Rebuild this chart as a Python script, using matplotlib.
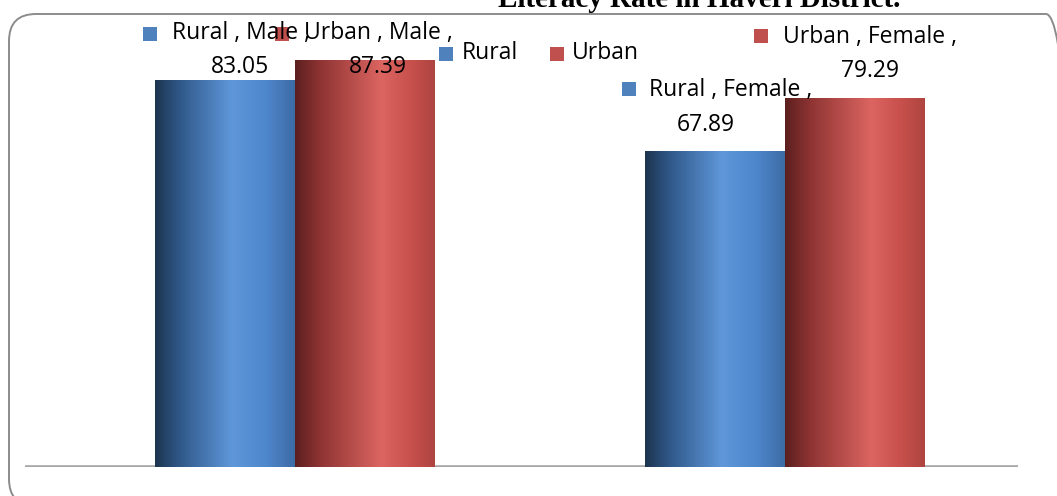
import matplotlib.pyplot as plt
import numpy as np
from matplotlib.colors import LinearSegmentedColormap
from matplotlib.patches import FancyBboxPatch, Rectangle
from matplotlib.transforms import IdentityTransform

plt.rcParams['font.family'] = ['Open Sans', 'DejaVu Sans']

# data
categories = ['Male', 'Female']
series = ['Rural', 'Urban']
rural = [83.05, 67.89]
urban = [87.39, 79.29]
colors = {'Rural': '#4f81bd', 'Urban': '#c0504d'}

W, H = 1057, 496
fig = plt.figure(figsize=(W / 100, H / 100), dpi=100)


def fx(px):
    return px / W


def fy(py):
    return 1 - py / H


# rounded chart border (pixel coords, origin bottom-left)
border = FancyBboxPatch((9, H - 506), 1073 - 9, 506 - 14,
                        boxstyle='round,pad=0,rounding_size=27',
                        transform=IdentityTransform(), facecolor='none',
                        edgecolor='#8c8c8c', linewidth=1.4)
fig.add_artist(border)

fig.text(fx(699), fy(7), 'Literacy Rate in Haveri District.', ha='center', va='baseline',
         family='Liberation Serif', fontweight='bold', fontsize=21)

ax = fig.add_axes([fx(25), fy(467), fx(1018) - fx(25), fy(1) - fy(467)])
ax.axis('off')
ax.axhline(0, color='#a6a6a6', linewidth=2.6, zorder=1)

cmaps = {
    'Rural': LinearSegmentedColormap.from_list('b', [(0, '#1d344f'), (0.18, '#30598a'),
                                                     (0.55, '#5f97da'), (0.8, '#4e86cb'),
                                                     (1, '#3d6ca5')]),
    'Urban': LinearSegmentedColormap.from_list('r', [(0, '#5c1f1f'), (0.18, '#8e3433'),
                                                     (0.62, '#dc6561'), (0.82, '#c9514d'),
                                                     (1, '#ae4440')]),
}
grad = np.linspace(0, 1, 256).reshape(1, -1)
width = 0.2857
x = np.arange(len(categories))
for offs, name, vals in [(-width / 2, 'Rural', rural), (width / 2, 'Urban', urban)]:
    bars = ax.bar(x + offs, vals, width, color=colors[name], zorder=2, linewidth=0)
    for b in bars:
        im = ax.imshow(grad, cmap=cmaps[name], aspect='auto', zorder=3,
                       extent=[b.get_x(), b.get_x() + b.get_width(), 0, b.get_height()])
        im.set_clip_path(b)
ax.set_xlim(-0.551, 1.476)
ax.set_ylim(0, 100)


def key(px, py, c):
    fig.patches.append(Rectangle((fx(px - 7), fy(py + 7)), fx(14), 14 / H,
                                 transform=fig.transFigure, facecolor=c, edgecolor='none',
                                 zorder=5))


fs = 16.5
# data labels (Excel style, with legend keys)
labels = [
    ('Rural', 0, rural[0], (150, 34), (172, 33), (240, 67)),
    ('Urban', 0, urban[0], (282, 34), (304, 33), (378, 67)),
    ('Urban', 1, urban[1], (761, 36), (783, 37), (870, 71)),
    ('Rural', 1, rural[1], (629, 89), (649, 90), (706, 125)),
]
for name, ci, val, kp, tp, vp in labels:
    key(kp[0], kp[1], colors[name])
    fig.text(fx(tp[0]), fy(tp[1]), f'{name} , {categories[ci]} ,', ha='left', va='center',
             fontsize=fs, zorder=6)
    fig.text(fx(vp[0]), fy(vp[1]), f'{val:.2f}', ha='center', va='center', fontsize=fs, zorder=6)

# legend
key(446, 54, colors['Rural'])
fig.text(fx(462), fy(53), 'Rural', ha='left', va='center', fontsize=fs)
key(557, 54, colors['Urban'])
fig.text(fx(572), fy(53), 'Urban', ha='left', va='center', fontsize=fs)

fig.savefig('out.png', dpi=100)
